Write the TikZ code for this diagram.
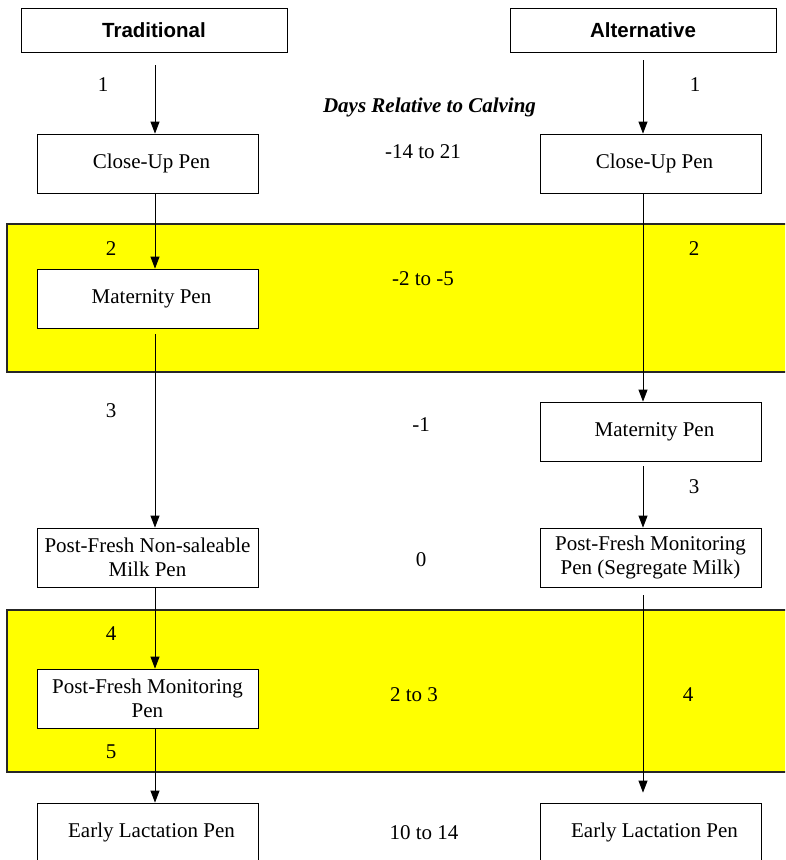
\documentclass[tikz,border=0pt]{standalone}
\usepackage{fontspec}
\setmainfont{Liberation Serif}
\setsansfont{Liberation Sans}
\usetikzlibrary{arrows.meta}
\definecolor{bandyellow}{RGB}{255,255,0}
\newcommand\shtxt[1]{\hspace*{8pt}#1}
\tikzset{
  pen/.style={draw=black, line width=0.8pt, fill=white, minimum width=221pt, minimum height=59pt,
    inner sep=0pt, align=center, font=\fontsize{21}{24}\selectfont},
  head/.style={draw=black, line width=0.8pt, fill=white, minimum width=266pt, minimum height=44pt,
    inner sep=0pt, font=\sffamily\bfseries\fontsize{20.5}{24}\selectfont},
  band/.style={draw=black!85, line width=1.2pt, fill=bandyellow},
  lbl/.style={inner sep=0pt, font=\fontsize{21}{24}\selectfont},
  flow/.style={draw=black, line width=0.8pt, -{Triangle[length=12pt,width=9pt]}},
}
\begin{document}
\begin{tikzpicture}[x=1pt,y=-1pt]
\path[use as bounding box] (0,0) rectangle (785,860);
\clip (0,0) rectangle (785,860);
% yellow bands
\path[band] (7,224) rectangle (800,372);
\path[band] (7,610) rectangle (800,772);
% headers
\node[head] (th) at (154,30) {Traditional};
\node[head] (ah) at (643,30) {Alternative};
% traditional column
\node[pen] (tc) at (147.5,163.5) {\shtxt{Close-Up Pen}};
\node[pen] (tm) at (147.5,298.5) {\shtxt{Maternity Pen}};
\node[pen] (tp) at (147.5,557.5) {Post-Fresh Non-saleable\\Milk Pen};
\node[pen] (tf) at (147.5,698.5) {Post-Fresh Monitoring\\Pen};
\node[pen] (te) at (147.5,832.5) {\shtxt{Early Lactation Pen}};
% alternative column
\node[pen] (ac) at (650.5,163.5) {\shtxt{Close-Up Pen}};
\node[pen] (am) at (650.5,431.5) {\shtxt{Maternity Pen}};
\node[pen] (ap) at (650.5,557.5) {Post-Fresh Monitoring\\Pen (Segregate Milk)};
\node[pen] (ae) at (650.5,832.5) {\shtxt{Early Lactation Pen}};
% middle labels
\node[lbl, font=\bfseries\itshape\fontsize{21}{24}\selectfont] (days) at (429.5,107) {Days Relative to Calving};
\node[lbl] (d1) at (423,152) {-14 to 21};
\node[lbl] (d2) at (423,279) {-2 to -5};
\node[lbl] (d3) at (421,425) {-1};
\node[lbl] (d4) at (421,560) {0};
\node[lbl] (d5) at (414,695) {2 to 3};
\node[lbl] (d6) at (424,833) {10 to 14};
% step numbers
\node[lbl] (t1) at (103,85) {1};
\node[lbl] (t2) at (111,249) {2};
\node[lbl] (t3) at (111,411) {3};
\node[lbl] (t4) at (111,634) {4};
\node[lbl] (t5) at (111,752) {5};
\node[lbl] (a1) at (695,85) {1};
\node[lbl] (a2) at (694,249) {2};
\node[lbl] (a3) at (694,487) {3};
\node[lbl] (a4) at (688,695) {4};
% traditional connectors
\coordinate (tx) at (155,0);
\draw[flow] ([yshift=-13pt]tx |- th.south) -- (tx |- tc.north);
\draw[flow] (tx |- tc.south) -- (tx |- tm.north);
\draw[flow] ([yshift=-6pt]tx |- tm.south) -- (tx |- tp.north);
\draw[flow] (tx |- tp.south) -- (tx |- tf.north);
\draw[flow] (tx |- tf.south) -- (tx |- te.north);
% alternative connectors
\draw[flow] ([yshift=-8pt]ah.south) -- (ah.south |- ac.north);
\draw[flow] (ah.south |- ac.south) -- (ah.south |- am.north);
\draw[flow] ([yshift=-5pt]ah.south |- am.south) -- (ah.south |- ap.north);
\draw[flow] ([yshift=-8pt]ah.south |- ap.south) -- ([yshift=10pt]ah.south |- ae.north);
\end{tikzpicture}
\end{document}
